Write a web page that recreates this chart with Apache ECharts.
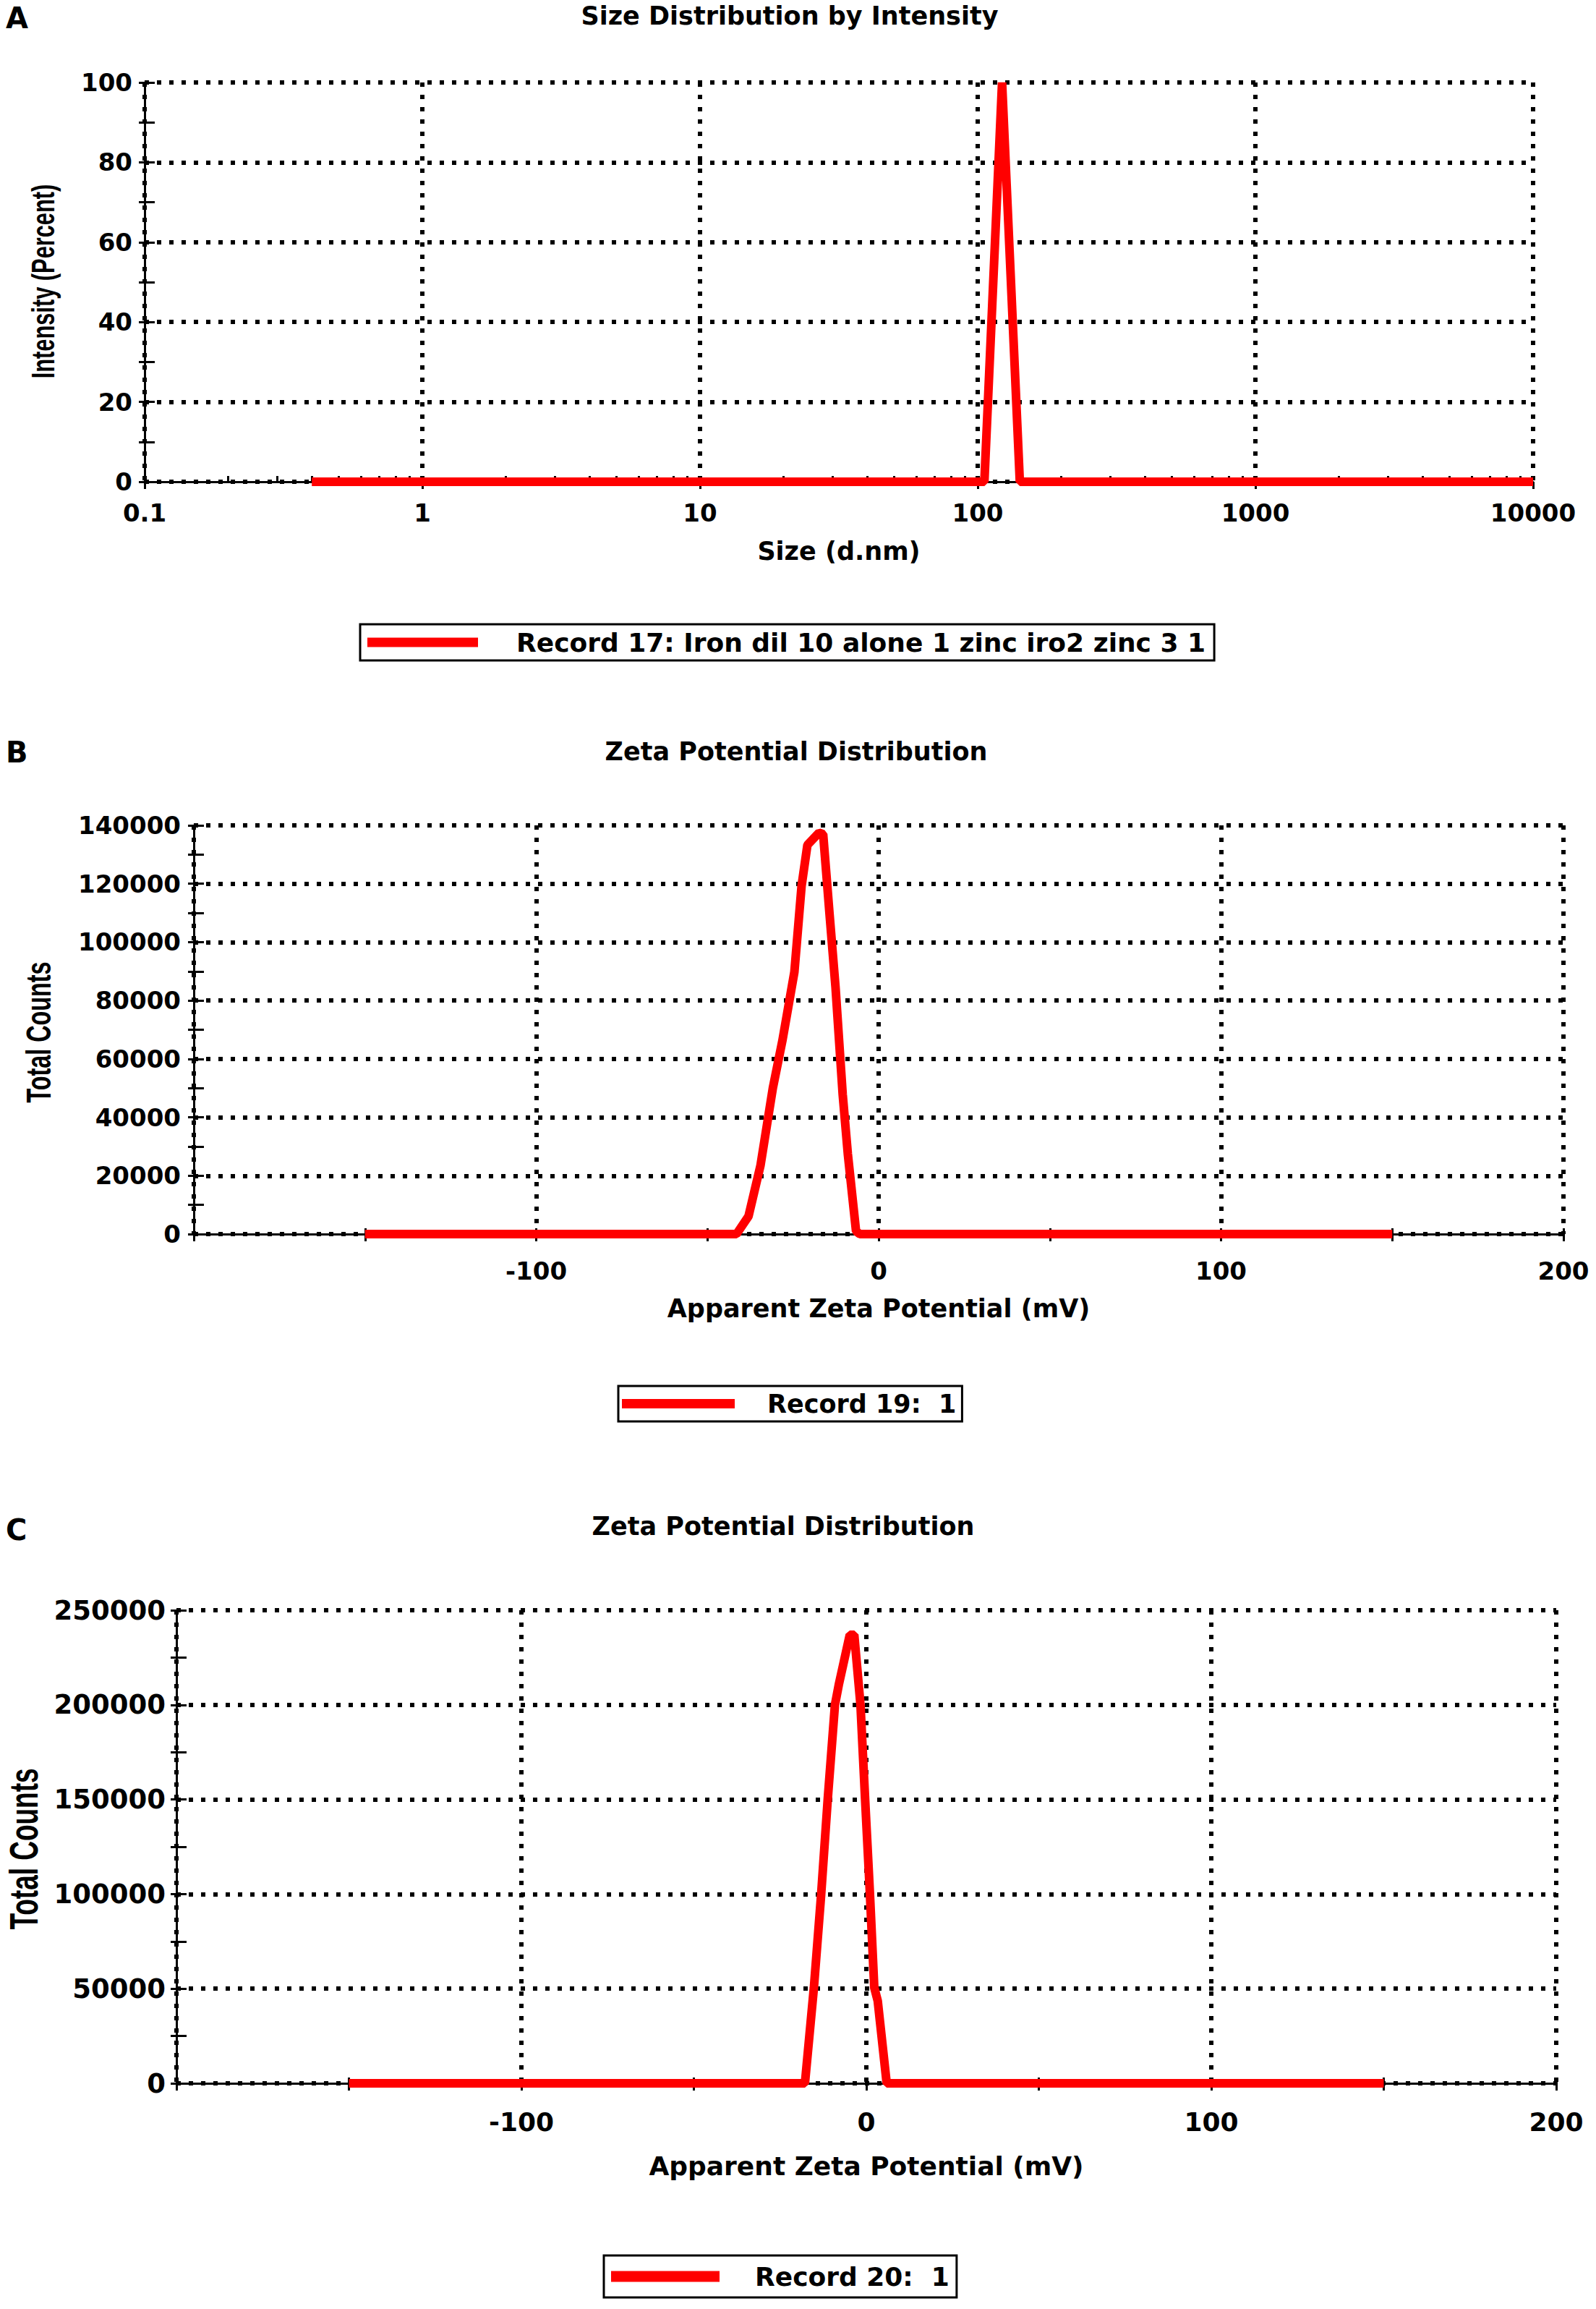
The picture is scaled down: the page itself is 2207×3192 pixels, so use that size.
<!DOCTYPE html>
<html>
<head>
<meta charset="utf-8">
<title>Size and zeta potential distribution</title>
<script src="https://cdn.jsdelivr.net/npm/echarts@6.0.0/dist/echarts.min.js"></script>
<style>
  html, body { margin: 0; padding: 0; background: #fff; }
  #main { width: 2207px; height: 3192px; }
</style>
</head>
<body>
<div id="main"></div>
<script>
// A: size distribution by intensity (log size axis)
var sizeNm = [0.4, 105.7, 122.4, 141.8, 10000];
var sizeIntensity = [0, 0, 100, 0, 0];
var recordA = 'Record 17: Iron dil 10 alone 1 zinc iro2 zinc 3 1';

// B: zeta potential, record 19
var zetaB = [-150, -41.5, -38, -34.5, -30.9, -28.1, -24.6, -22.5, -20.8, -17.4, -16.2, -14.3, -12.6, -10.5, -9.0, -6.6, -5.5, 150];
var countsB = [0, 0, 6100, 23500, 50000, 66300, 89800, 119300, 133300, 137500, 137000, 109100, 84700, 47900, 27500, 1000, 0, 0];
var recordB = 'Record 19:  1';

// C: zeta potential, record 20
var zetaC = [-150, -17.8, -15.2, -13.1, -11.2, -9.1, -8.0, -4.8, -3.5, -1.7, -0.35, 1.05, 2.3, 3.3, 5.9, 150];
var countsC = [0, 0, 50600, 99800, 149900, 200000, 210500, 237000, 237000, 200000, 149900, 99800, 50600, 43600, 0, 0];
var recordC = 'Record 20:  1';

var titles = ['Size Distribution by Intensity', 'Zeta Potential Distribution', 'Zeta Potential Distribution'];
var panelLetters = ['A', 'B', 'C'];
var xNames = ['Size (d.nm)', 'Apparent Zeta Potential (mV)', 'Apparent Zeta Potential (mV)'];
var yNames = ['Intensity (Percent)', 'Total Counts', 'Total Counts'];

// minor ticks of the log axis: 2..9 in every decade
var sizeMinorTicks = [];
[0.1, 1, 10, 100, 1000].forEach(function (d) {
  for (var k = 2; k <= 9; k++) sizeMinorTicks.push(+(k * d).toPrecision(3));
});

function pairs(xs, ys) {
  return xs.map(function (x, i) { return [x, ys[i]]; });
}

var black = '#000';
var red = '#ff0000';
var dots = { color: black, width: 6, type: [6, 11] };
var tickLine = { color: black, width: 3 };
function font(size) {
  return { color: black, fontFamily: 'DejaVu Sans', fontWeight: 'bold', fontSize: size };
}
function plain(v) { return String(+Number(v).toPrecision(6)); }

function mainX(grid, o) {
  return Object.assign({
    gridIndex: grid, position: 'bottom',
    axisLine: { onZero: false, lineStyle: { color: black, width: 3 } },
    axisTick: { length: 10, lineStyle: tickLine },
    minorTick: { show: o.type !== 'log', splitNumber: 2, length: 10, lineStyle: tickLine },
    splitLine: { show: true, lineStyle: dots },
    nameLocation: 'middle', nameTextStyle: font(35)
  }, o);
}
function overX(grid, o) {
  return Object.assign({
    gridIndex: grid, position: 'bottom',
    axisLine: { show: false, onZero: false },
    axisLabel: { show: false },
    splitLine: { show: false },
    axisTick: { inside: true, length: 8, lineStyle: tickLine }
  }, o);
}
function mainY(grid, o) {
  return Object.assign({
    type: 'value', gridIndex: grid, position: 'left', min: 0,
    axisLine: { show: true, onZero: false, lineStyle: { color: black, width: 3 } },
    axisTick: { show: true, length: 8, lineStyle: tickLine },
    minorTick: { show: true, splitNumber: 2, length: 8, lineStyle: tickLine },
    splitLine: { show: true, lineStyle: dots }
  }, o);
}
function overY(grid, o) {
  return Object.assign({
    type: 'value', gridIndex: grid, position: 'left', min: 0,
    axisLine: { show: false, onZero: false },
    axisLabel: { show: false },
    splitLine: { show: false },
    axisTick: { show: true, inside: true, length: 14, lineStyle: tickLine }
  }, o);
}

var chart = echarts.init(document.getElementById('main'), null, { renderer: 'svg' });

var option = {
  animation: false,
  backgroundColor: '#fff',
  grid: [
    { left: 200, top: 114, width: 1920, height: 552 },
    { left: 268, top: 1141, width: 1894, height: 565 },
    { left: 244, top: 2226, width: 1908, height: 654 }
  ],
  xAxis: [
    mainX(0, { type: 'log', logBase: 10, min: 0.1, max: 10000, name: xNames[0], nameGap: 78,
      axisLabel: Object.assign({ margin: 26, formatter: plain }, font(34)) }),
    overX(0, { type: 'log', logBase: 10, min: 0.1, max: 10000,
      axisTick: { inside: true, length: 8, lineStyle: tickLine, customValues: sizeMinorTicks } }),
    mainX(1, { type: 'value', min: -200, max: 200, interval: 100, name: xNames[1], nameGap: 85,
      axisLabel: Object.assign({ margin: 34, showMinLabel: false, formatter: plain }, font(34)) }),
    overX(1, { type: 'value', min: -200, max: 200, interval: 50 }),
    mainX(2, { type: 'value', min: -200, max: 200, interval: 100, name: xNames[2], nameGap: 96,
      nameTextStyle: font(36),
      axisLabel: Object.assign({ margin: 35, showMinLabel: false, formatter: plain }, font(36)) }),
    overX(2, { type: 'value', min: -200, max: 200, interval: 50 })
  ],
  yAxis: [
    mainY(0, { max: 100, interval: 20, axisLabel: Object.assign({ margin: 17, formatter: plain }, font(34)) }),
    overY(0, { max: 100, interval: 10 }),
    mainY(1, { max: 140000, interval: 20000, axisLabel: Object.assign({ margin: 18, formatter: plain }, font(34)) }),
    overY(1, { max: 140000, interval: 10000 }),
    mainY(2, { max: 250000, interval: 50000, axisLabel: Object.assign({ margin: 15, formatter: plain }, font(37)) }),
    overY(2, { max: 250000, interval: 25000 })
  ],
  legend: [
    { data: [recordA], left: 498, top: 863, padding: [7, 12, 7, 10] },
    { data: [recordB], left: 855, top: 1916, padding: [7, 8, 7, 5] },
    { data: [recordC], left: 835, top: 3118, padding: [11, 10, 11, 10] }
  ].map(function (l, i) {
    return Object.assign({
      orient: 'horizontal', icon: 'rect', selectedMode: false,
      itemWidth: [153, 156, 150][i], itemHeight: [13, 13, 15][i],
      borderColor: black, borderWidth: 3, backgroundColor: '#fff',
      textStyle: Object.assign({ padding: [0, 0, 0, [48, 40, 44][i]] }, font([36, 35, 36][i]))
    }, l);
  }),
  series: [
    { name: recordA, data: pairs(sizeNm, sizeIntensity), xAxisIndex: 0, yAxisIndex: 0 },
    { name: recordB, data: pairs(zetaB, countsB), xAxisIndex: 2, yAxisIndex: 2 },
    { name: recordC, data: pairs(zetaC, countsC), xAxisIndex: 4, yAxisIndex: 4 }
  ].map(function (s) {
    return Object.assign({
      type: 'line', showSymbol: false, symbol: 'none', color: red,
      lineStyle: { color: red, width: 12 }, itemStyle: { color: red }
    }, s);
  }),
  graphic: [
    // panel letters
    { type: 'text', x: 8, y: 25, style: { text: panelLetters[0] } },
    { type: 'text', x: 8, y: 1040, style: { text: panelLetters[1] } },
    { type: 'text', x: 8, y: 2115, style: { text: panelLetters[2] } }
  ].map(function (g) {
    g.style = Object.assign({ fill: black, fontFamily: 'DejaVu Sans', fontWeight: 'bold', fontSize: 40,
      align: 'left', verticalAlign: 'middle' }, g.style);
    return g;
  }).concat([
    // panel titles
    { type: 'text', x: 1092, y: 22, style: { text: titles[0] } },
    { type: 'text', x: 1101, y: 1039, style: { text: titles[1] } },
    { type: 'text', x: 1083, y: 2110, style: { text: titles[2] } }
  ].map(function (g) {
    g.style = Object.assign({ fill: black, fontFamily: 'DejaVu Sans', fontWeight: 'bold', fontSize: 35,
      align: 'center', verticalAlign: 'middle' }, g.style);
    return g;
  })).concat([
    // rotated y axis names, drawn narrow like the original
    { type: 'text', x: 60, y: 389, rotation: Math.PI / 2, scaleX: 0.70, style: { text: yNames[0], fontSize: 44 } },
    { type: 'text', x: 53, y: 1427, rotation: Math.PI / 2, scaleX: 0.66, style: { text: yNames[1], fontSize: 49 } },
    { type: 'text', x: 33, y: 2556, rotation: Math.PI / 2, scaleX: 0.66, style: { text: yNames[2], fontSize: 56 } }
  ].map(function (g) {
    g.style = Object.assign({ fill: black, fontFamily: 'Liberation Sans', fontWeight: 'bold',
      align: 'center', verticalAlign: 'middle' }, g.style);
    return g;
  }))
};

chart.setOption(option);
</script>
</body>
</html>
